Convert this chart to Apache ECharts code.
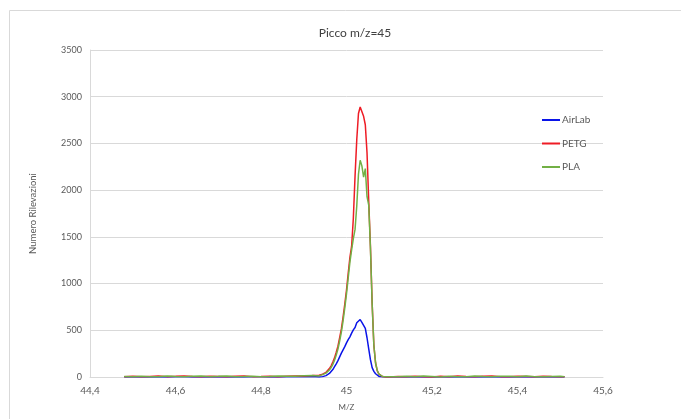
<!DOCTYPE html>
<html>
<head>
<meta charset="utf-8">
<script src="https://cdn.jsdelivr.net/npm/echarts@6/dist/echarts.min.js"></script>
<style>
  html, body { margin: 0; padding: 0; background: #fff; }
  #picco-chart { width: 681px; height: 419px; }
</style>
</head>
<body>
<div id="picco-chart"></div>
<script>
// m/z values (baseline left, peak, baseline right)
const mz = [
  44.48, 44.50, 44.52, 44.54, 44.56, 44.58, 44.60, 44.62, 44.64, 44.66, 44.68, 44.70,
  44.72, 44.74, 44.76, 44.78, 44.80, 44.82, 44.84, 44.86, 44.88, 44.90, 44.92,
  44.936, 44.940, 44.944, 44.948, 44.952, 44.956, 44.960, 44.964, 44.968, 44.972,
  44.976, 44.980, 44.984, 44.988, 44.992, 44.996, 45.000, 45.004, 45.008, 45.012,
  45.016, 45.020, 45.024, 45.028, 45.032, 45.036, 45.040, 45.044, 45.048, 45.052,
  45.056, 45.060, 45.064, 45.068, 45.072, 45.076, 45.080, 45.084, 45.088, 45.092,
  45.096, 45.100,
  45.12, 45.14, 45.16, 45.18, 45.20, 45.22, 45.24, 45.26, 45.28, 45.30, 45.32,
  45.34, 45.36, 45.38, 45.40, 45.42, 45.44, 45.46, 45.48, 45.50, 45.51
]
const airlab = [
  0, 2, 0, 3, 1, 0, 2, 4, 0, 1, 3, 0, 2, 1, 0, 3, 2, 0, 1, 4, 2, 3, 5,
  0, 2, 4, 8, 15, 25, 38, 55, 80, 110,
  140, 175, 215, 255, 290, 325, 365, 400, 430, 470,
  505, 530, 580, 600, 615, 585, 605, 520, 420, 300,
  185, 100, 60, 35, 18, 6, 0, 2, 0, 1,
  0, 0,
  0, 1, 0, 2, 0, 1, 3, 0, 0, 2, 1, 0, 2, 0, 1, 0, 3, 1, 0, 0, 1
]
const petg = [
  3, 8, 2, 6, 10, 4, 7, 12, 5, 3, 9, 6, 2, 8, 11, 4, 6, 9, 3, 7, 10, 12, 15,
  18, 22, 30, 38, 50, 65, 90, 120, 160, 205,
  265, 330, 420, 515, 640, 780, 930, 1110, 1280, 1400,
  1700, 2150, 2540, 2820, 2890, 2911, 2790, 2700, 2400, 1880,
  1400, 790, 340, 150, 65, 30, 12, 5, 3, 0,
  4, 0,
  6, 2, 9, 4, 1, 8, 3, 10, 5, 2, 7, 11, 4, 3, 9, 6, 2, 8, 5, 3, 4
]
const pla = [
  5, 2, 9, 4, 3, 11, 6, 2, 8, 10, 4, 7, 12, 3, 5, 9, 2, 6, 11, 8, 9, 13, 16,
  12, 18, 25, 32, 42, 55, 75, 100, 135, 180,
  235, 300, 385, 480, 600, 740, 890, 1060, 1230, 1360,
  1480, 1580, 1830, 2170, 2320, 2260, 2140, 2230, 1930, 1840,
  1380, 780, 340, 150, 70, 30, 12, 6, 2, 4,
  0, 3,
  3, 8, 2, 10, 6, 1, 9, 4, 3, 12, 5, 2, 8, 7, 3, 10, 4, 2, 6, 9, 3
]
const seriesNames = ['AirLab', 'PETG', 'PLA']
const seriesColors = ['#0a14e8', '#ee1c25', '#72b045']

const txt = '#595959'
const font = 'Lato'
const pairs = arr => mz.map((x, i) => [x, arr[i]])

const myChart = echarts.init(document.getElementById('picco-chart'))
const option = {
  animation: false,
  color: seriesColors,
  graphic: [
    {
      type: 'rect',
      shape: { x: 9.5, y: 10.5, width: 700, height: 430 },
      style: { fill: 'none', stroke: '#d9d9d9', lineWidth: 1 },
      silent: true,
    },
  ],
  title: {
    text: 'Picco m/z=45',
    left: 350,
    top: 22,
    textAlign: 'center',
    textStyle: {
      fontFamily: font,
      fontSize: 12,
      fontWeight: 400,
      color: '#404040',
    },
  },
  legend: {
    orient: 'vertical',
    left: 537,
    top: 110,
    itemWidth: 18,
    itemHeight: 2,
    itemGap: 13.5,
    icon: 'rect',
    data: seriesNames,
    textStyle: {
      fontFamily: font,
      fontSize: 10,
      color: txt,
      padding: [0, 0, 0, -3],
    },
  },
  grid: {
    left: 90,
    right: 78,
    top: 50,
    bottom: 42,
    containLabel: false,
  },
  xAxis: {
    type: 'value',
    min: 44.4,
    max: 45.6,
    interval: 0.2,
    name: 'M/Z',
    nameLocation: 'middle',
    nameGap: 26,
    nameTextStyle: { fontFamily: font, fontSize: 8, color: txt },
    axisLine: { lineStyle: { color: '#d9d9d9' } },
    axisTick: { show: false },
    splitLine: { show: false },
    axisLabel: {
      fontFamily: font,
      fontSize: 10,
      color: txt,
      margin: 9,
      formatter: v => String(Math.round(v * 10) / 10).replace('.', ','),
    },
  },
  yAxis: {
    type: 'value',
    min: 0,
    max: 3500,
    interval: 500,
    name: 'Numero Rilevazioni',
    nameLocation: 'middle',
    nameGap: 52,
    nameTextStyle: { fontFamily: font, fontSize: 9.5, color: txt },
    axisLine: { show: true, lineStyle: { color: '#d9d9d9' } },
    axisTick: { show: false },
    splitLine: { lineStyle: { color: '#d9d9d9' } },
    axisLabel: {
      fontFamily: font,
      fontSize: 9,
      color: txt,
      margin: 8,
      formatter: v => String(v),
    },
  },
  series: [
    { name: 'AirLab', data: pairs(airlab) },
    { name: 'PETG', data: pairs(petg) },
    { name: 'PLA', data: pairs(pla) },
  ].map((s, i) => ({
    name: s.name,
    type: 'line',
    data: s.data,
    showSymbol: false,
    symbol: 'none',
    lineStyle: { color: seriesColors[i], width: 1.5 },
    itemStyle: { color: seriesColors[i] },
  })),
}
myChart.setOption(option)
</script>
</body>
</html>
